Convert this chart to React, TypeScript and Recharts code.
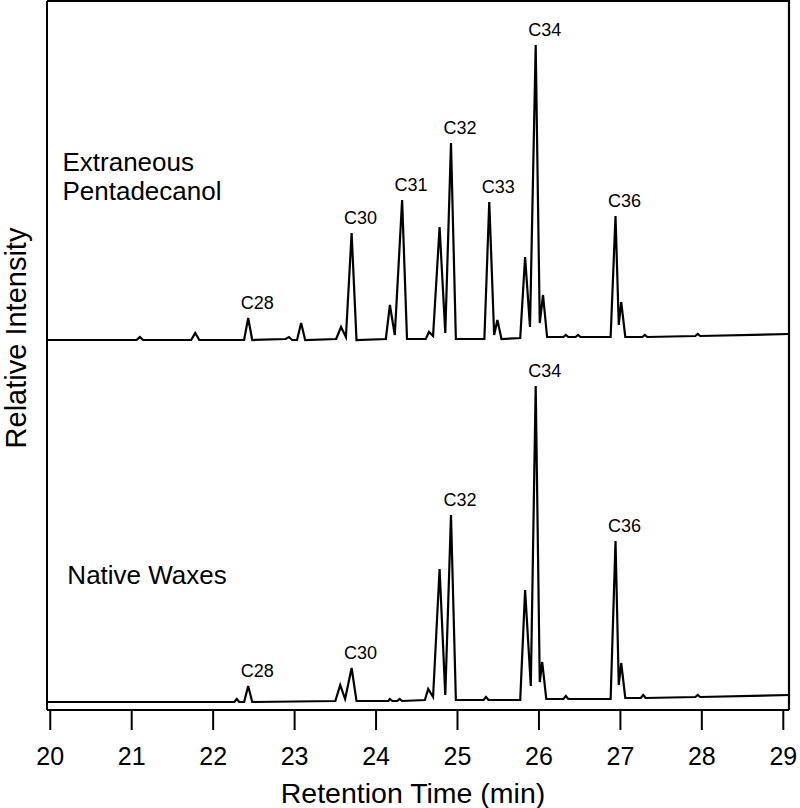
import React from 'react';
import { ComposedChart, Line, XAxis, YAxis, ReferenceDot } from 'recharts';

const FONT = '"Liberation Sans", Arial, Helvetica, sans-serif';

// upper trace: sample with extraneous pentadecanol (signal offset up so both traces share one axis)
const pentadecanolTime = [
  19.96, 21.06, 21.1, 21.14, 21.73, 21.78, 21.83, 22.38, 22.43, 22.48,
  22.89, 22.93, 22.97, 23.03, 23.08, 23.13, 23.51, 23.57, 23.63, 23.7,
  23.76, 24.12, 24.17, 24.23, 24.32, 24.38, 24.61, 24.65, 24.7, 24.78,
  24.85, 24.92, 24.98, 25.33, 25.39, 25.45, 25.49, 25.54, 25.77, 25.83,
  25.89, 25.96, 26.01, 26.05, 26.1, 26.3, 26.33, 26.36, 26.45, 26.48,
  26.51, 26.88, 26.94, 26.98, 27.01, 27.06, 27.27, 27.3, 27.33, 27.92,
  27.95, 27.98, 29.07,
];
const pentadecanolSignal = [
  370, 370, 373, 370, 370, 377, 370, 370, 392, 370,
  371, 373, 370, 370, 387, 370, 371, 383, 373, 477,
  370, 371, 405, 375, 510, 371, 371, 378, 374, 483,
  377, 567, 371, 371, 508, 375, 390, 371, 372, 453,
  383, 665, 387, 415, 373, 373, 375, 373, 373, 375,
  373, 373, 494, 385, 408, 373, 373, 375, 373, 374,
  376, 374, 376,
];

// lower trace: native waxes
const nativeTime = [
  19.96, 22.26, 22.29, 22.32, 22.38, 22.43, 22.48, 23.5, 23.56, 23.62,
  23.7, 23.76, 24.15, 24.17, 24.2, 24.26, 24.29, 24.32, 24.6, 24.64,
  24.7, 24.78, 24.85, 24.92, 24.98, 25.32, 25.35, 25.38, 25.77, 25.83,
  25.9, 25.96, 26.01, 26.04, 26.09, 26.3, 26.33, 26.36, 26.88, 26.94,
  26.98, 27.01, 27.06, 27.25, 27.28, 27.31, 27.92, 27.95, 27.98, 29.07,
];
const nativeSignal = [
  8, 8, 11, 8, 8, 24, 8, 9, 25, 11,
  42, 9, 9, 11, 9, 9, 11, 9, 10, 21,
  13, 141, 15, 195, 10, 10, 13, 10, 10, 120,
  24, 324, 28, 48, 11, 11, 14, 11, 11, 169,
  25, 47, 12, 12, 15, 12, 13, 15, 13, 15,
];

const pentadecanolPeaks = ['C28', 'C30', 'C31', 'C32', 'C33', 'C34', 'C36'];
const pentadecanolPeakTimes = [22.43, 23.7, 24.32, 24.92, 25.39, 25.96, 26.94];
const nativePeaks = ['C28', 'C30', 'C32', 'C34', 'C36'];
const nativePeakTimes = [22.43, 23.7, 24.92, 25.96, 26.94];

const xTicks = [20, 21, 22, 23, 24, 25, 26, 27, 28, 29];
const X_DOMAIN = [19.96, 29.07];
const Y_DOMAIN = [0, 709];

const pentadecanolData = pentadecanolTime.map((t, i) => ({ t, v: pentadecanolSignal[i] }));
const nativeData = nativeTime.map((t, i) => ({ t, v: nativeSignal[i] }));
// top and right edges of the plot box, traced along the axis limits
const boxEdges = [
  { t: X_DOMAIN[0], v: Y_DOMAIN[1] },
  { t: X_DOMAIN[1], v: Y_DOMAIN[1] },
  { t: X_DOMAIN[1], v: Y_DOMAIN[0] },
];

const signalAt = (times: number[], signal: number[], t: number) => signal[times.indexOf(t)];

const peakLabel = (name: string) => (p: any) => (
  <text x={p.cx + 9} y={p.cy - 9} textAnchor="middle" fontSize={18} fontFamily={FONT} fill="#000">
    {name}
  </text>
);

const textNote = (lines: string[]) => (p: any) => (
  <text x={p.cx} y={p.cy} fontSize={26} fontFamily={FONT} fill="#000">
    {lines.map((l, i) => (
      <tspan key={i} x={p.cx} dy={i === 0 ? 0 : 29}>
        {l}
      </tspan>
    ))}
  </text>
);

export default function App() {
  return (
    <div style={{ position: 'absolute', left: 0, top: 0, width: 800, height: 808, background: '#fff' }}>
      <ComposedChart width={800} height={808} margin={{ top: 1, right: 11, bottom: 0, left: 0 }}>
        <XAxis
          dataKey="t"
          type="number"
          domain={X_DOMAIN}
          ticks={xTicks}
          interval={0}
          height={98}
          tickSize={20}
          tickMargin={17}
          axisLine={{ stroke: '#000', strokeWidth: 2 }}
          tickLine={{ stroke: '#000', strokeWidth: 2 }}
          tick={{ fill: '#000', fontSize: 25, fontFamily: FONT }}
          label={(props: any) => (
            <text x={413} y={803} textAnchor="middle" fontSize={28.5} fontFamily={FONT} fill="#000">
              Retention Time (min)
            </text>
          )}
        />
        <YAxis
          type="number"
          domain={Y_DOMAIN}
          width={47}
          tick={false}
          tickLine={false}
          axisLine={{ stroke: '#000', strokeWidth: 2 }}
          label={(props: any) => (
            <text
              transform="translate(16, 338) rotate(-90)"
              textAnchor="middle"
              dominantBaseline="central"
              fontSize={29}
              fontFamily={FONT}
              fill="#000"
            >
              Relative Intensity
            </text>
          )}
        />
        <Line
          data={boxEdges}
          dataKey="v"
          type="linear"
          stroke="#000"
          strokeWidth={2.2}
          dot={false}
          legendType="none"
          isAnimationActive={false}
        />
        <Line
          data={pentadecanolData}
          dataKey="v"
          type="linear"
          stroke="#000"
          strokeWidth={2.2}
          dot={false}
          isAnimationActive={false}
        />
        <Line
          data={nativeData}
          dataKey="v"
          type="linear"
          stroke="#000"
          strokeWidth={2.2}
          dot={false}
          isAnimationActive={false}
        />
        {pentadecanolPeaks.map((name, i) => (
          <ReferenceDot
            key={'p' + name}
            x={pentadecanolPeakTimes[i]}
            y={signalAt(pentadecanolTime, pentadecanolSignal, pentadecanolPeakTimes[i])}
            r={0}
            shape={peakLabel(name)}
          />
        ))}
        {nativePeaks.map((name, i) => (
          <ReferenceDot
            key={'n' + name}
            x={nativePeakTimes[i]}
            y={signalAt(nativeTime, nativeSignal, nativePeakTimes[i])}
            r={0}
            shape={peakLabel(name)}
          />
        ))}
        <ReferenceDot x={20.15} y={539} r={0} shape={textNote(['Extraneous', 'Pentadecanol'])} />
        <ReferenceDot x={20.21} y={126} r={0} shape={textNote(['Native Waxes'])} />
      </ComposedChart>
    </div>
  );
}
